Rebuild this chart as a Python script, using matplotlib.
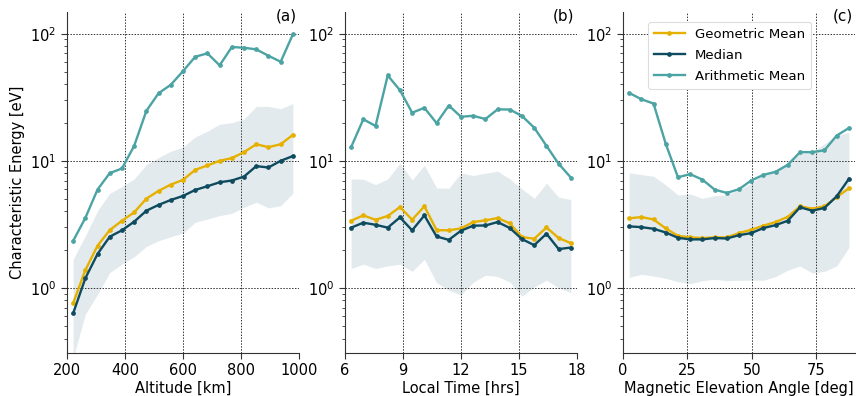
import numpy as np
import matplotlib
matplotlib.use("Agg")
import matplotlib.pyplot as plt
from matplotlib.ticker import LogLocator, NullFormatter

# ---------------- data ----------------
alt = [200 + (i + 0.5) * 800 / 19 for i in range(19)]
alt_arith = [2.34, 3.55, 5.94, 8.0, 8.7, 13.1, 24.7, 34.0, 39.6, 50.7, 65.8, 70.0, 56.3, 78.5, 77.5, 75.2, 67.0, 60.1, 98.8]
alt_geo = [0.757, 1.38, 2.15, 2.85, 3.38, 3.93, 5.04, 5.8, 6.5, 7.08, 8.49, 9.19, 10.0, 10.5, 11.7, 13.5, 12.8, 13.5, 16.0]
alt_med = [0.63, 1.19, 1.85, 2.53, 2.84, 3.32, 4.05, 4.5, 4.92, 5.29, 5.9, 6.31, 6.78, 7.0, 7.52, 9.08, 8.86, 10.0, 10.9]
alt_hi = [1.68, 2.57, 4.05, 5.55, 6.27, 7.2, 9.36, 10.6, 11.9, 12.8, 15.4, 17.1, 19.4, 19.95, 21.3, 26.8, 26.8, 25.7, 28.2]
alt_lo = [0.28, 0.62, 0.89, 1.32, 1.54, 1.76, 2.12, 2.35, 2.53, 2.7, 3.28, 3.48, 3.7, 3.86, 4.31, 4.72, 4.26, 4.44, 5.55]

lt = [6 + (i + 0.5) * 12 / 19 for i in range(19)]
lt_arith = [12.8, 21.2, 18.8, 46.9, 35.9, 23.9, 26.1, 19.8, 27.2, 22.2, 22.6, 21.3, 25.4, 25.3, 22.5, 18.2, 13.1, 9.47, 7.38]
lt_geo = [3.38, 3.72, 3.44, 3.68, 4.33, 3.44, 4.39, 2.85, 2.84, 2.94, 3.3, 3.4, 3.55, 3.22, 2.51, 2.44, 2.99, 2.47, 2.25]
lt_med = [2.98, 3.26, 3.14, 2.98, 3.59, 2.84, 3.72, 2.54, 2.39, 2.82, 3.09, 3.1, 3.3, 2.96, 2.42, 2.17, 2.67, 2.02, 2.08]
lt_hi = [7.21, 7.16, 6.5, 7.21, 9.59, 7.08, 9.24, 6.12, 6.08, 8.04, 7.66, 7.99, 8.29, 7.21, 6.01, 5.07, 6.66, 5.17, 4.95]
lt_lo = [1.42, 1.54, 1.42, 1.49, 1.54, 1.35, 1.68, 1.1, 0.96, 0.88, 1.11, 1.26, 1.23, 1.11, 0.86, 1.02, 1.15, 1.0, 0.92]

mel = [(i + 0.5) * 90 / 19 for i in range(19)]
mel_arith = [34.2, 30.5, 28.2, 13.6, 7.43, 7.85, 7.12, 5.94, 5.59, 5.98, 7.0, 7.75, 8.19, 9.3, 11.7, 11.7, 12.1, 15.8, 18.1]
mel_geo = [3.53, 3.61, 3.46, 2.94, 2.57, 2.5, 2.47, 2.5, 2.5, 2.7, 2.87, 3.09, 3.3, 3.63, 4.39, 4.2, 4.39, 5.17, 6.08]
mel_med = [3.05, 3.01, 2.92, 2.73, 2.48, 2.41, 2.41, 2.47, 2.45, 2.6, 2.7, 2.96, 3.12, 3.38, 4.31, 4.05, 4.26, 5.26, 7.21]
mel_hi = [8.04, 7.8, 7.56, 6.47, 5.39, 5.49, 5.07, 5.32, 5.42, 5.9, 6.66, 7.89, 8.54, 9.76, 11.4, 11.7, 13.6, 15.8, 16.8]
mel_lo = [1.21, 1.28, 1.24, 1.19, 1.12, 1.08, 1.14, 1.17, 1.14, 1.15, 1.15, 1.15, 1.23, 1.38, 1.49, 1.31, 1.35, 1.49, 2.08]

xlabels = ["Altitude [km]", "Local Time [hrs]", "Magnetic Elevation Angle [deg]"]
panel_tags = ["(a)", "(b)", "(c)"]
xlims = [(200, 1000), (6, 18), (0, 90)]
xticks = [[200, 400, 600, 800, 1000], [6, 9, 12, 15, 18], [0, 25, 50, 75]]

C_GEO = "#E6B000"
C_MED = "#0E4B5E"
C_ARI = "#4CA3A3"
C_BAND = "#D5E0E4"

plt.rcParams["font.family"] = ["DejaVu Sans"]
plt.rcParams["font.size"] = 10

fig = plt.figure(figsize=(8.56, 3.96), dpi=100)
lefts = [67 / 856, 345 / 856, 623 / 856]
W = 232 / 856
B = 1 - 353 / 396
H = (353 - 12) / 396

data = [
    (alt, alt_geo, alt_med, alt_arith, alt_lo, alt_hi),
    (lt, lt_geo, lt_med, lt_arith, lt_lo, lt_hi),
    (mel, mel_geo, mel_med, mel_arith, mel_lo, mel_hi),
]

for k, (x, g, m, a, lo, hi) in enumerate(data):
    ax = fig.add_axes([lefts[k], B, W, H])
    ax.fill_between(x, lo, hi, color=C_BAND, alpha=0.65, lw=0)
    ax.plot(x, g, color=C_GEO, lw=1.7, marker="o", ms=2.4, label="Geometric Mean")
    ax.plot(x, m, color=C_MED, lw=1.7, marker="o", ms=2.4, label="Median")
    ax.plot(x, a, color=C_ARI, lw=1.7, marker="o", ms=2.4, label="Arithmetic Mean")
    ax.set_yscale("log")
    ax.set_ylim(0.308, 148)
    ax.set_xlim(*xlims[k])
    ax.set_xticks(xticks[k])
    ax.set_yticks([1, 10, 100])
    ax.yaxis.set_minor_locator(LogLocator(base=10, subs=np.arange(2, 10)))
    ax.yaxis.set_minor_formatter(NullFormatter())
    ax.grid(True, which="major", color="#333333", ls=(0, (1.5, 1.5)), lw=0.7)
    for s in ["top", "right"]:
        ax.spines[s].set_visible(False)
    for s in ["left", "bottom"]:
        ax.spines[s].set_color("#333333")
        ax.spines[s].set_linewidth(0.8)
    ax.tick_params(which="major", length=4, width=0.8, color="#333333", labelsize=10.5)
    ax.tick_params(which="minor", length=2.5, width=0.6, color="#333333")
    ax.set_xlabel(xlabels[k], fontsize=10.5, labelpad=2)
    ax.text(0.99, 1.01, panel_tags[k], transform=ax.transAxes, ha="right", va="top", fontsize=11)
    if k == 0:
        ax.set_ylabel("Characteristic Energy [eV]", fontsize=10.5)
    if k == 2:
        leg = ax.legend(loc="upper right", bbox_to_anchor=(0.84, 0.99), fontsize=9.5,
                        frameon=True, framealpha=1, edgecolor="#dddddd", fancybox=True,
                        handlelength=2.3, handletextpad=0.8, borderpad=0.45, labelspacing=0.6)
        leg.get_frame().set_linewidth(0.8)

fig.savefig("out.png", dpi=100)
